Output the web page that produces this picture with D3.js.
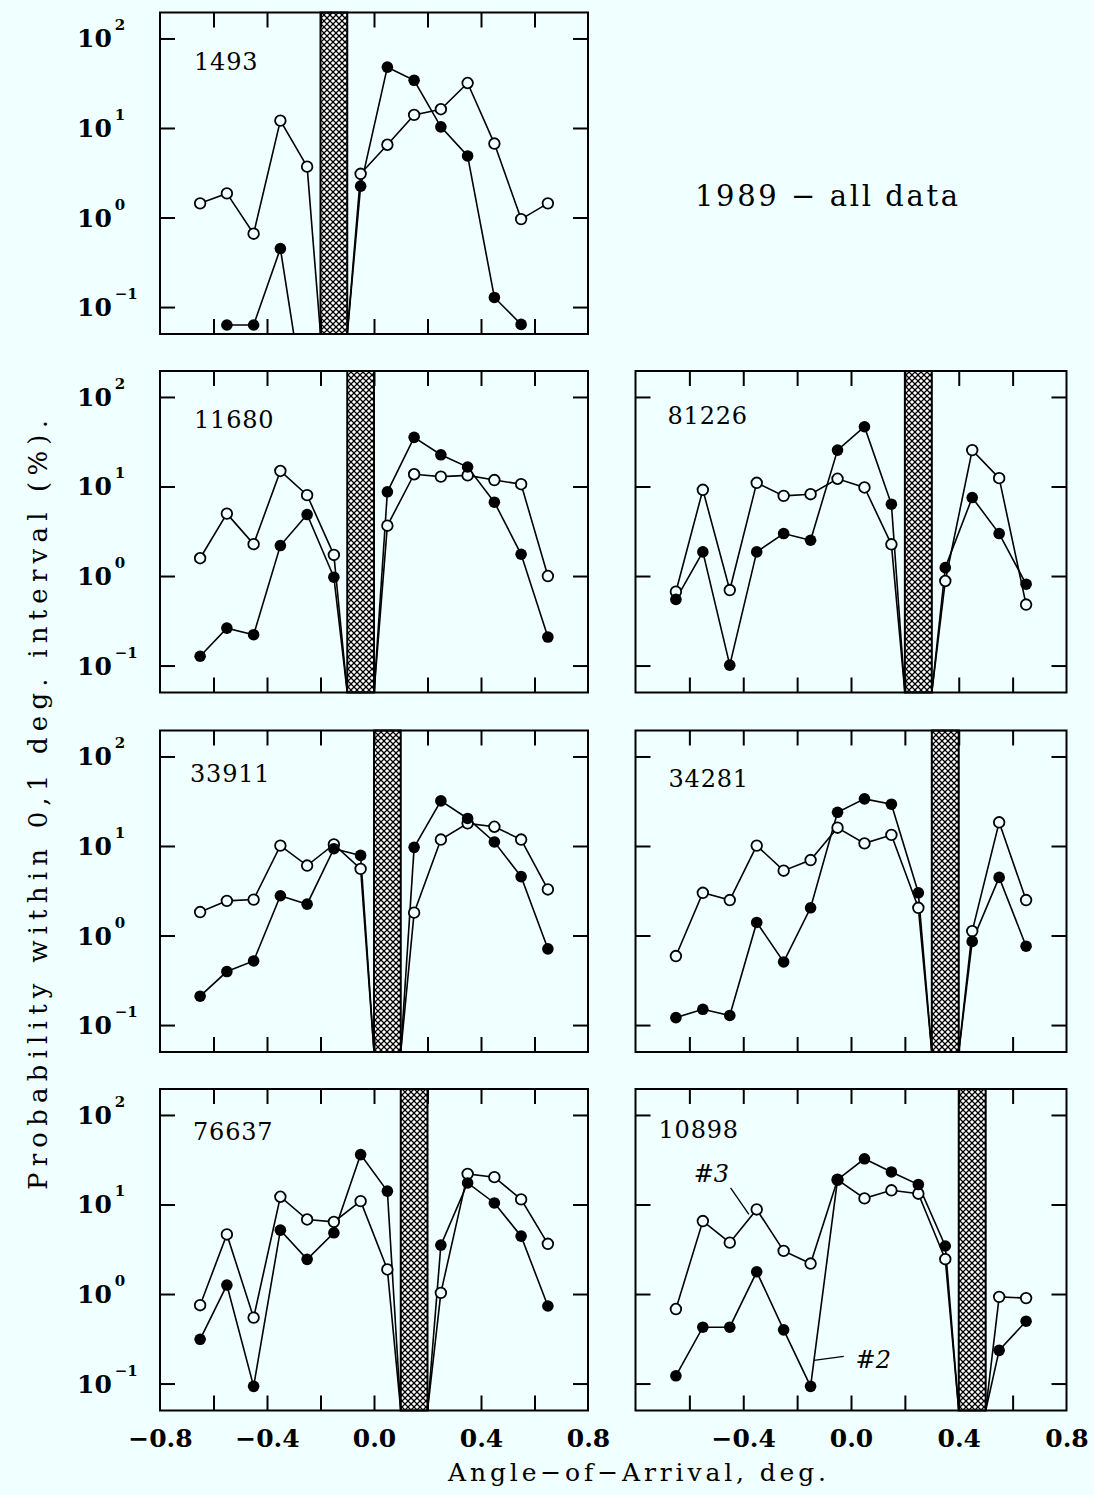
<!DOCTYPE html>
<html><head><meta charset="utf-8">
<script src="https://cdn.jsdelivr.net/npm/d3@7"></script>
<style>body{margin:0;background:#F0FFFF;} svg{display:block}</style>
</head><body><svg id="c" width="1094" height="1495"></svg>
<script>
// ---------------- DATA ----------------
const bins = [-0.65,-0.55,-0.45,-0.35,-0.25,-0.15,-0.05,0.05,0.15,0.25,0.35,0.45,0.55,0.65];
const panelNames = ["1493","11680","81226","33911","34281","76637","10898"];
const gapBins = [-0.15,-0.05,0.25,0.05,0.35,0.15,0.45];

const open1493   = [1.44,1.86,0.66,12.1,3.7,null,3.08,6.5,14.0,16.2,31.8,6.7,0.96,1.44];
const filled1493 = [null,0.063,0.063,0.45,null,null,2.24,47.8,34.1,10.3,4.87,0.128,0.064,null];
const open11680   = [1.58,4.98,2.27,14.9,8.0,1.72,null,3.65,13.7,12.9,13.3,11.8,10.6,1.0];
const filled11680 = [0.127,0.262,0.221,2.19,4.86,0.97,null,8.73,35.4,22.6,16.5,6.68,1.75,0.208];
const open81226   = [0.668,9.18,0.697,11.0,7.86,8.2,12.2,9.75,2.26,null,0.88,25.5,12.4,0.48];
const filled81226 = [0.548,1.86,0.101,1.86,2.98,2.51,25.5,46.5,6.34,null,1.24,7.53,2.98,0.81];
const open33911   = [1.83,2.44,2.52,10.1,6.05,10.4,5.55,null,1.80,11.8,17.9,16.4,11.8,3.27];
const filled33911 = [0.21,0.396,0.52,2.78,2.24,9.33,7.85,null,9.66,31.9,20.3,11.1,4.55,0.71];
const open34281   = [0.59,3.0,2.49,10.1,5.3,6.97,16.0,10.7,13.3,2.04,null,1.12,18.4,2.49];
const filled34281 = [0.121,0.15,0.128,1.4,0.507,2.04,23.8,33.6,29.3,3.0,null,0.86,4.46,0.76];
const open76637   = [0.75,4.63,0.545,12.2,6.8,6.4,10.9,1.88,null,1.03,22.0,20.2,11.4,3.64];
const filled76637 = [0.312,1.26,0.093,5.17,2.44,4.83,36.1,14.1,null,3.52,17.4,10.4,4.43,0.735];
const open10898   = [0.68,6.53,3.75,8.8,3.03,2.19,18.9,11.7,14.4,13.2,2.45,null,0.93,0.9];
const filled10898 = [0.122,0.426,0.426,1.77,0.398,0.093,18.9,32.4,23.1,16.7,3.44,null,0.235,0.497];

const openSeries   = [open1493, open11680, open81226, open33911, open34281, open76637, open10898];
const filledSeries = [filled1493, filled11680, filled81226, filled33911, filled34281, filled76637, filled10898];

const xTickValues = [-0.6,-0.4,-0.2,0,0.2,0.4,0.6];
const xLabelsLeft = [-0.8,-0.4,0,0.4,0.8];
const xLabelsRight = [-0.4,0,0.4,0.8];
const yTickValues = [0.1,1,10,100];
const yExponents = ["\u22121","0","1","2"];
const xTitle = "Angle\u2212of\u2212Arrival, deg.";
const yTitle = "Probability within 0,1 deg. interval (%).";
const noteText = "1989 \u2212 all data";
// annotations in panel 10898 (data coordinates)
const annoLabels = ["#3","#2"];
const annoTextPos = [[-0.584,17.7],[0.017,0.148]];
const annoLines = [[[-0.447,15.3],[-0.379,7.74]],[[-0.138,0.1815],[-0.027,0.201]]];

// ---------------- LAYOUT ----------------
const BG = "#F0FFFF";
const FONT = "'DejaVu Serif', serif";
const cols = [{x:160,w:428},{x:635.5,w:431}];
const rows = [12.5,371,730.5,1089];
const PH = 321.5;
const panelCells = [[0,0],[0,1],[1,1],[0,2],[1,2],[0,3],[1,3]];
const labelOffsets = [[34,57],[34,57],[32,53],[30,51],[33,56],[33,51],[23,49]];
const TICK = 15;

const svg = d3.select("#c");
svg.append("rect").attr("width",1094).attr("height",1495).attr("fill",BG);

const defs = svg.append("defs");
const pat = defs.append("pattern").attr("id","hatch").attr("patternUnits","userSpaceOnUse")
  .attr("width",6).attr("height",6);
pat.append("rect").attr("width",6).attr("height",6).attr("fill","#000");
[[3,3],[0,0],[6,0],[0,6],[6,6]].forEach(([cx,cy])=>{
  const s=2.1;
  pat.append("polygon").attr("points",`${cx},${cy-s} ${cx+s},${cy} ${cx},${cy+s} ${cx-s},${cy}`).attr("fill","#fff");
});

panelNames.forEach((name,i)=>{
  const [c,r] = panelCells[i];
  const x0 = cols[c].x, w = cols[c].w, y0 = rows[r], h = PH;
  const x = d3.scaleLinear().domain([-0.8,0.8]).range([x0,x0+w]);
  const y = d3.scaleLog().domain([0.05,195]).range([y0+h,y0]);
  const g = svg.append("g");
  const yBottom = y.domain()[0];

  // hatched bar
  const gb = gapBins[i];
  g.append("rect").attr("x",x(gb-0.05)).attr("y",y(y.domain()[1]))
    .attr("width",x(gb+0.05)-x(gb-0.05)).attr("height",y(yBottom)-y(y.domain()[1]))
    .attr("fill","url(#hatch)").attr("stroke","#000").attr("stroke-width",2);

  const seriesList = [openSeries[i], filledSeries[i]];
  // lines
  seriesList.forEach(vals=>{
    const pts = bins.map((b,k)=>({x:b,v:vals[k]}));
    const line = d3.line().defined(d=>d.v!=null).x(d=>x(d.x)).y(d=>y(d.v));
    g.append("path").attr("d",line(pts)).attr("fill","none").attr("stroke","#000").attr("stroke-width",1.6);
    const gi = bins.findIndex(b=>Math.abs(b-gb)<1e-9);
    let a = gi; while(a>0 && vals[a-1]==null) a--;
    let b = gi; while(b<bins.length-1 && vals[b+1]==null) b++;
    const seg = d3.line().x(d=>x(d[0])).y(d=>y(d[1]));
    if (a>0) g.append("path").attr("d",seg([[bins[a-1],vals[a-1]],[bins[a]-0.05,yBottom]]))
      .attr("fill","none").attr("stroke","#000").attr("stroke-width",1.6);
    if (b<bins.length-1) g.append("path").attr("d",seg([[bins[b]+0.05,yBottom],[bins[b+1],vals[b+1]]]))
      .attr("fill","none").attr("stroke","#000").attr("stroke-width",1.6);
  });
  // markers
  g.selectAll("circle.o").data(bins.map((b,k)=>({x:b,v:openSeries[i][k]})).filter(d=>d.v!=null))
    .enter().append("circle").attr("cx",d=>x(d.x)).attr("cy",d=>y(d.v)).attr("r",5.3)
    .attr("fill",BG).attr("stroke","#000").attr("stroke-width",1.8);
  g.selectAll("circle.f").data(bins.map((b,k)=>({x:b,v:filledSeries[i][k]})).filter(d=>d.v!=null))
    .enter().append("circle").attr("cx",d=>x(d.x)).attr("cy",d=>y(d.v)).attr("r",5.8)
    .attr("fill","#000");

  // ticks
  const tickStyle = sel=>{ sel.select(".domain").remove(); sel.selectAll("line").attr("stroke","#000").attr("stroke-width",2); sel.selectAll("text").remove(); };
  g.append("g").attr("transform",`translate(0,${y0+h})`).call(d3.axisBottom(x).tickValues(xTickValues).tickSize(-TICK).tickFormat("")).call(tickStyle);
  g.append("g").attr("transform",`translate(0,${y0})`).call(d3.axisTop(x).tickValues(xTickValues).tickSize(-TICK).tickFormat("")).call(tickStyle);
  g.append("g").attr("transform",`translate(${x0},0)`).call(d3.axisLeft(y).tickValues(yTickValues).tickSize(-TICK).tickFormat("")).call(tickStyle);
  g.append("g").attr("transform",`translate(${x0+w},0)`).call(d3.axisRight(y).tickValues(yTickValues).tickSize(-TICK).tickFormat("")).call(tickStyle);

  // frame
  g.append("rect").attr("x",x0).attr("y",y0).attr("width",w).attr("height",h)
    .attr("fill","none").attr("stroke","#000").attr("stroke-width",2);

  // panel label
  g.append("text").attr("x",x0+labelOffsets[i][0]).attr("y",y0+labelOffsets[i][1])
    .attr("font-family",FONT).attr("font-size",24).attr("letter-spacing",0.8).attr("fill","#000").text(name);

  // y labels for left column
  if (c===0){
    yTickValues.forEach((v,k)=>{
      const t = g.append("text").attr("x",77).attr("y",y(v)+9).attr("font-family",FONT)
        .attr("font-weight","bold").attr("font-size",25).attr("fill","#000");
      t.append("tspan").text("10");
      t.append("tspan").attr("dx",3).attr("dy",-17).attr("font-size",15).text(yExponents[k]);
    });
  }
  // x labels for bottom row
  if (r===3){
    const ax = g.append("g").attr("transform",`translate(0,${y0+h})`)
      .call(d3.axisBottom(x).tickValues(c===0?xLabelsLeft:xLabelsRight).tickSize(0).tickPadding(19).tickFormat(d3.format(".1f")));
    ax.select(".domain").remove();
    ax.selectAll("text").attr("font-family",FONT).attr("font-weight","bold").attr("font-size",25).attr("fill","#000");
  }
  // annotations
  if (name==="10898"){
    annoLabels.forEach((lab,k)=>{
      g.append("text").attr("x",x(annoTextPos[k][0])).attr("y",y(annoTextPos[k][1]))
        .attr("font-family",FONT).attr("font-style","italic").attr("font-size",24).attr("fill","#000").text(lab);
      g.append("path").attr("d",d3.line().x(d=>x(d[0])).y(d=>y(d[1]))(annoLines[k]))
        .attr("fill","none").attr("stroke","#000").attr("stroke-width",1.3);
    });
  }
});

// titles
svg.append("text").attr("x",448).attr("y",1481).attr("font-family",FONT).attr("font-size",25)
  .attr("textLength",378).attr("lengthAdjust","spacing").attr("fill","#000").text(xTitle);
svg.append("text").attr("transform","translate(47,805) rotate(-90)").attr("text-anchor","middle")
  .attr("font-family",FONT).attr("font-size",26).attr("textLength",770).attr("lengthAdjust","spacing")
  .attr("fill","#000").text(yTitle);
svg.append("text").attr("x",695).attr("y",206).attr("font-family",FONT).attr("font-size",29)
  .attr("textLength",263).attr("lengthAdjust","spacing").attr("fill","#000").text(noteText);
</script></body></html>
